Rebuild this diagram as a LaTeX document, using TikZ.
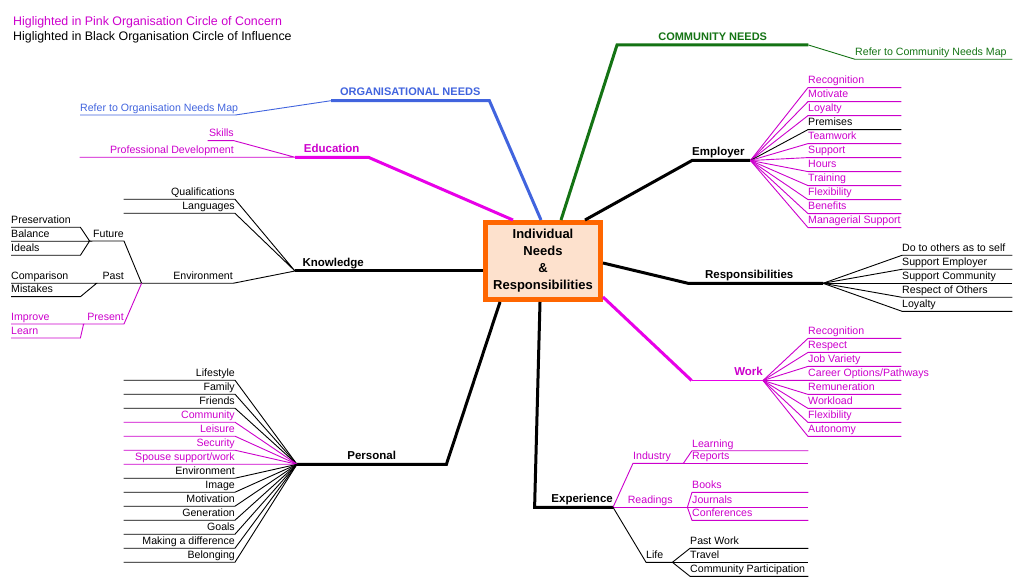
\documentclass[tikz,border=0pt]{standalone}
\usepackage{fontspec}
\setmainfont{Liberation Sans}

\definecolor{pinkc}{RGB}{204,0,204}
\definecolor{pinkthick}{RGB}{232,0,232}
\definecolor{bluec}{RGB}{65,100,222}
\definecolor{greenc}{RGB}{20,115,20}
\definecolor{orangec}{RGB}{255,102,0}
\definecolor{peach}{RGB}{253,225,205}

\tikzset{
  lbl/.style={inner xsep=0pt, inner ysep=2pt, text height=7.5pt, text depth=1.5pt},
  lleft/.style={lbl, anchor=south west, execute at begin node={\hbox to #1\bgroup}, execute at end node={\hss\egroup}},
  lright/.style={lbl, anchor=south east, execute at begin node={\hbox to #1\bgroup\hss}, execute at end node={\egroup}},
  lmid/.style={lbl, anchor=south west, execute at begin node={\hbox to #1\bgroup\hss}, execute at end node={\hss\egroup}},
  mainlbl/.style={font=\fontsize{11.5}{13}\selectfont\bfseries, inner ysep=3pt},
  capslbl/.style={font=\fontsize{11}{13}\selectfont\bfseries, inner ysep=3pt},
  limb/.style={line width=3pt},
  twig/.style={line width=0.9pt},
  core/.style={draw=orangec, fill=peach, line width=5pt, minimum width=115pt, minimum height=77pt, inner sep=0pt, align=center, font=\fontsize{13}{17}\selectfont\bfseries}
}

\begin{document}
\begin{tikzpicture}[x=1pt, y=-1pt, font=\fontsize{10.6}{12}\selectfont]
\useasboundingbox (0,0) rectangle (1025,585);

% Define nodes
\node[anchor=base west, inner sep=0pt, font=\fontsize{12.4}{14}\selectfont, text=pinkc] (concern) at (13,26) {Higlighted in Pink Organisation Circle of Concern};
\node[anchor=base west, inner sep=0pt, font=\fontsize{12.4}{14}\selectfont] (influence) at (13,40.7) {Higlighted in Black Organisation Circle of Influence};

\node[core] (centre) at (543,261) {Individual\\Needs\\\&\\Responsibilities};

\path
(331,100.7) node[lmid=158pt, capslbl, text=bluec] (orgneeds) {ORGANISATIONAL NEEDS}
(80,115) node[lleft=155pt, text=bluec] (orgref) {Refer to Organisation Needs Map}
(617,45) node[lmid=191pt, capslbl, text=greenc] (commneeds) {COMMUNITY NEEDS}
(855,59.3) node[lleft=157pt, text=greenc] (commref) {Refer to Community Needs Map}
(295,157.3) node[lmid=73pt, mainlbl, text=pinkc] (education) {Education}
(234,140.7) node[lright=26pt, text=pinkc] (skills) {Skills}
(234,157.3) node[lright=154pt, text=pinkc] (profdev) {Professional Development}
(692,160.5) node[lleft=58pt, mainlbl] (employer) {Employer}
(688,283.3) node[lmid=122pt, mainlbl] (respons) {Responsibilities}
(763,380.5) node[lright=71pt, mainlbl, text=pinkc] (work) {Work}
(295,271) node[lmid=76pt, mainlbl] (knowledge) {Knowledge}
(297,464.3) node[lmid=149pt, mainlbl] (personal) {Personal}
(613,507.3) node[lright=78pt, mainlbl] (experience) {Experience}
(823,283.3) coordinate (resphub)
;

% main branches
\draw[limb, bluec] ([xshift=-2pt]centre.north) -- (orgneeds.south east) -- (orgneeds.south west);
\draw[twig, bluec] (orgneeds.south west) -- (orgref.south east) -- (orgref.south west);
\draw[limb, greenc] ([xshift=18pt]centre.north) -- (commneeds.south west) -- (commneeds.south east);
\draw[twig, greenc] (commneeds.south east) -- (commref.south west) -- (commref.south east);
\draw[limb, pinkthick] ([xshift=-30pt]centre.north) -- (education.south east) -- (education.south west);
\draw[twig, pinkc] (education.south west) -- (skills.south east) -- (skills.south west)
  (education.south west) -- (profdev.south east) -- (profdev.south west);
\draw[limb] ([xshift=42pt]centre.north) -- (employer.south west) -- (employer.south east);
\draw[limb] ([yshift=-2pt]centre.east) -- (respons.south west) -- (resphub);
\draw[limb, pinkthick] ([yshift=5pt]centre.south east) -- (work.south west);
\draw[line width=1.6pt, pinkthick] (work.south west) -- (work.south east);
\draw[limb] ([yshift=-10pt]centre.west) -- (knowledge.south west);
\draw[limb] ([xshift=-43pt]centre.south) -- (personal.south east) -- (personal.south west);
\draw[limb] ([xshift=-3pt]centre.south) -- (experience.south west) -- (experience.south east);

% employer
\foreach \lbl/\col [count=\i] in {Recognition/pinkc, Motivate/pinkc, Loyalty/pinkc, Premises/black, Teamwork/pinkc, Support/pinkc, Hours/pinkc, Training/pinkc, Flexibility/pinkc, Benefits/pinkc, Managerial Support/pinkc}
{
  \node[lleft=93pt, text=\col] (emp\i) at (808,{73.6+14*\i}) {\lbl};
  \draw[twig, \col] (employer.south east) -- (emp\i.south west) -- (emp\i.south east);
}

% responsibilities
\foreach \lbl [count=\i] in {Do to others as to self, Support Employer, Support Community, Respect of Others, Loyalty}
{
  \node[lleft=110pt] (resp\i) at (902,{241.3+14*\i}) {\lbl};
  \draw[twig] (resphub) -- (resp\i.south west) -- (resp\i.south east);
}

% work
\foreach \lbl [count=\i] in {Recognition, Respect, Job Variety, {Career Options/Pathways}, Remuneration, Workload, Flexibility, Autonomy}
{
  \node[lleft=93pt, text=pinkc] (wrk\i) at (808,{324.4+14*\i}) {\lbl};
  \draw[twig, pinkc] (work.south east) -- (wrk\i.south west) -- (wrk\i.south east);
}

% knowledge
\path
(235,199.3) node[lright=111pt] (qualif) {Qualifications}
(235,213.3) node[lright=111pt] (lang) {Languages}
(233,283.3) node[lright=91pt] (environ) {Environment}
(124,241) node[lright=34pt] (future) {Future}
(124,283.3) node[lright=27pt] (past) {Past}
(124,324) node[lright=40pt, text=pinkc] (present) {Present}
(11,227.3) node[lleft=69pt] (preserv) {Preservation}
(11,241.3) node[lleft=79pt] (balance) {Balance}
(11,255.3) node[lleft=69pt] (ideals) {Ideals}
(11,283.3) node[lleft=86pt] (compar) {Comparison}
(11,296.7) node[lleft=69pt] (mistakes) {Mistakes}
(11,324) node[lleft=73pt, text=pinkc] (improve) {Improve}
(11,338) node[lleft=69pt, text=pinkc] (learn) {Learn}
;
\draw[twig] (knowledge.south west) -- (qualif.south east) -- (qualif.south west)
  (knowledge.south west) -- (lang.south east) -- (lang.south west)
  (knowledge.south west) -- (environ.south east) -- (environ.south west);
\draw[twig] (environ.south west) -- (future.south east) -- (future.south west)
  (environ.south west) -- (past.south east) -- (past.south west);
\draw[twig, pinkc] (environ.south west) -- (present.south east) -- (present.south west);
\draw[twig] (future.south west) -- (preserv.south east) -- (preserv.south west)
  (future.south west) -- (balance.south east) -- (balance.south west)
  (future.south west) -- (ideals.south east) -- (ideals.south west);
\draw[twig] (past.south west) -- (compar.south east) -- (compar.south west)
  (past.south west) -- (mistakes.south east) -- (mistakes.south west);
\draw[twig, pinkc] (present.south west) -- (improve.south east) -- (improve.south west)
  (present.south west) -- (learn.south east) -- (learn.south west);

% personal
\foreach \lbl/\col [count=\i] in {Lifestyle/black, Family/black, Friends/black, Community/pinkc, Leisure/pinkc, Security/pinkc, {Spouse support/work}/pinkc, Environment/black, Image/black, Motivation/black, Generation/black, Goals/black, Making a difference/black, Belonging/black}
{
  \node[lright=111pt, text=\col] (pers\i) at (235,{366.2+14*\i}) {\lbl};
  \draw[twig, \col] (personal.south west) -- (pers\i.south east) -- (pers\i.south west);
}

% experience
\path
(633,463.3) node[lleft=50pt, text=pinkc] (industry) {Industry}
(613,507.3) node[lmid=74pt, text=pinkc] (readings) {Readings}
(646,562.3) node[lleft=26pt] (life) {Life}
;
\draw[twig, pinkc] (experience.south east) -- (industry.south west) -- (industry.south east);
\draw[twig, pinkc] (readings.south west) -- (readings.south east);
\draw[twig] (experience.south east) -- (life.south west) -- (life.south east);
\foreach \lbl/\y [count=\i] in {Learning/450.7, Reports/463.3}
{
  \node[lleft=116pt, text=pinkc] (ind\i) at (692,\y) {\lbl};
  \draw[twig, pinkc] (industry.south east) -- (ind\i.south west) -- (ind\i.south east);
}
\foreach \lbl/\y [count=\i] in {Books/492.3, Journals/507.3, Conferences/520.3}
{
  \node[lleft=116pt, text=pinkc] (read\i) at (692,\y) {\lbl};
  \draw[twig, pinkc] (readings.south east) -- (read\i.south west) -- (read\i.south east);
}
\foreach \lbl/\y [count=\i] in {Past Work/548.3, Travel/562.3, Community Participation/576.3}
{
  \node[lleft=118pt] (lf\i) at (690,\y) {\lbl};
  \draw[twig] (life.south east) -- (lf\i.south west) -- (lf\i.south east);
}

\end{tikzpicture}
\end{document}
